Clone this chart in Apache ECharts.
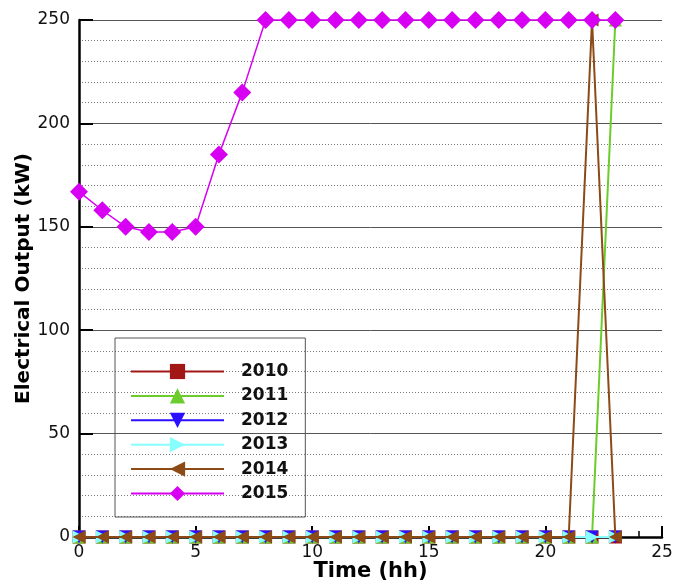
<!DOCTYPE html>
<html>
<head>
<meta charset="utf-8">
<script src="https://cdn.jsdelivr.net/npm/echarts@6/dist/echarts.min.js"></script>
<style>html,body{margin:0;padding:0;background:#fff}#c{width:674px;height:586px}</style>
</head>
<body>
<div id="c"></div>
<script>
const hours = [0,1,2,3,4,5,6,7,8,9,10,11,12,13,14,15,16,17,18,19,20,21,22,23];
const y2010 = [0,0,0,0,0,0,0,0,0,0,0,0,0,0,0,0,0,0,0,0,0,0,0,0];
const y2011 = [0,0,0,0,0,0,0,0,0,0,0,0,0,0,0,0,0,0,0,0,0,0,0,250];
const y2012 = [0,0,0,0,0,0,0,0,0,0,0,0,0,0,0,0,0,0,0,0,0,0,0,0];
const y2013 = [0,0,0,0,0,0,0,0,0,0,0,0,0,0,0,0,0,0,0,0,0,0,0,0];
const y2014 = [0,0,0,0,0,0,0,0,0,0,0,0,0,0,0,0,0,0,0,0,0,0,250,0];
const y2015 = [167,158,150,147.5,147.5,150,185,215,250,250,250,250,250,250,250,250,250,250,250,250,250,250,250,250];
const seriesNames = ['2010','2011','2012','2013','2014','2015'];
const xTicks = [0,5,10,15,20,25];
const yTicks = [0,50,100,150,200,250];

const allData = [y2010,y2011,y2012,y2013,y2014,y2015];
const colors = ['#a31616','#6ccc2c','#2a10ff','#88ffff','#8b4a16','#d800f2'];
const symbols = ['rect','triangle','triangle','triangle','triangle','diamond'];
const rotates = [0,0,180,-90,90,0];
const sizes = [13,13,13,13,13,18];

const chart = echarts.init(document.getElementById('c'), null, {renderer:'canvas'});
const font = 'DejaVu Sans';
chart.setOption({
  animation:false,
  backgroundColor:'#fff',
  grid:{left:79,right:12,top:20,bottom:49,containLabel:false,outerBoundsMode:'none'},
  legend:{
    orient:'vertical', left:115, top:338,
    itemWidth:93, itemHeight:19, itemGap:7.4,
    padding:[25,17,15,15],
    borderColor:'#555', borderWidth:1,
    textStyle:{fontFamily:font,fontWeight:'bold',fontSize:17,color:'#111',padding:[0,0,0,12]},
    data:seriesNames
  },
  xAxis:{
    type:'value', min:xTicks[0], max:xTicks[xTicks.length-1], interval:5,
    name:'Time (hh)', nameLocation:'middle', nameGap:24, nameMoveOverlap:false,
    nameTextStyle:{fontFamily:font,fontWeight:'bold',fontSize:21,color:'#000'},
    axisLine:{show:true,onZero:false,lineStyle:{color:'#000',width:2.5}},
    axisTick:{show:true,inside:true,length:11,lineStyle:{color:'#000',width:2}},
    minorTick:{show:true,splitNumber:5,length:6,lineStyle:{color:'#000',width:1.5}},
    axisLabel:{fontFamily:font,fontSize:17,color:'#111',margin:7},
    splitLine:{show:false}
  },
  yAxis:{
    type:'value', min:yTicks[0], max:yTicks[yTicks.length-1], interval:50,
    name:'Electrical Output (kW)', nameLocation:'middle', nameGap:45, nameMoveOverlap:false,
    nameTextStyle:{fontFamily:font,fontWeight:'bold',fontSize:20,color:'#000'},
    axisLine:{show:true,lineStyle:{color:'#000',width:2.5}},
    axisTick:{show:true,inside:true,length:14,lineStyle:{color:'#000',width:2}},
    minorTick:{show:false,splitNumber:5},
    minorSplitLine:{show:true,lineStyle:{color:'#777',width:1,type:[1,2]}},
    axisLabel:{fontFamily:font,fontSize:17,color:'#111',margin:9},
    splitLine:{show:true,lineStyle:{color:'#555',width:1}}
  },
  series: seriesNames.map((n,i)=>({
    name:n, type:'line',
    data: hours.map((h,j)=>[h, allData[i][j]]),
    symbol:symbols[i], symbolSize:sizes[i], symbolRotate:rotates[i],
    showAllSymbol:true,
    clip:false,
    lineStyle:{color:colors[i],width:i===5?1.5:2},
    itemStyle:{color:colors[i]},
    z: 2+i
  }))
});
</script>
</body>
</html>
